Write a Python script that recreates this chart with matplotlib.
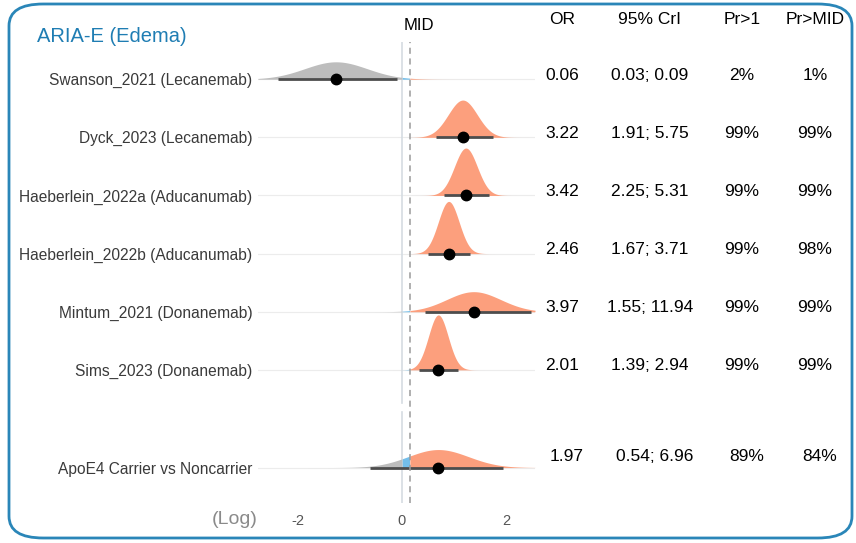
import numpy as np
import matplotlib.pyplot as plt
from matplotlib.patches import FancyBboxPatch
from matplotlib import transforms

plt.rcParams['font.family'] = ['Liberation Sans', 'DejaVu Sans']

# --- data (log odds ratio scale) ---
labels = ["Swanson_2021 (Lecanemab)", "Dyck_2023 (Lecanemab)",
          "Haeberlein_2022a (Aducanumab)", "Haeberlein_2022b (Aducanumab)",
          "Mintum_2021 (Donanemab)", "Sims_2023 (Donanemab)",
          "ApoE4 Carrier vs Noncarrier"]
rows = [0, 1, 2, 3, 4, 5, 6.68]
centers = [-1.27, 1.17, 1.23, 0.90, 1.38, 0.70, 0.70]
sds = [0.60, 0.28, 0.22, 0.20, 0.52, 0.19, 0.58]
ci_lo = [-2.38, 0.65, 0.81, 0.51, 0.44, 0.33, -0.62]
ci_hi = [-0.10, 1.75, 1.67, 1.31, 2.48, 1.08, 1.94]
or_txt = ["0.06", "3.22", "3.42", "2.46", "3.97", "2.01", "1.97"]
cri_txt = ["0.03; 0.09", "1.91; 5.75", "2.25; 5.31", "1.67; 3.71",
           "1.55; 11.94", "1.39; 2.94", "0.54; 6.96"]
pr1_txt = ["2%", "99%", "99%", "99%", "99%", "99%", "89%"]
prmid_txt = ["1%", "99%", "99%", "98%", "99%", "99%", "84%"]
mid = 0.15

orange = "#FC9F7D"
blue = "#74BEEA"
grey = "#BDBDBD"

fig = plt.figure(figsize=(8.56, 5.43), dpi=100)

# rounded frame
frame = FancyBboxPatch((9 / 856, 5 / 543), 843 / 856, 534 / 543,
                       boxstyle="round,pad=0,rounding_size=0.04",
                       transform=fig.transFigure, fill=False,
                       edgecolor="#2A86B8", linewidth=2)
fig.patches.append(frame)

fig.text(37 / 856, 1 - 37 / 543, "ARIA-E (Edema)", color="#1F7DB3",
         fontsize=14.5, va="center", ha="left")

ax = fig.add_axes([258 / 856, 1 - 503 / 543, 277 / 856, 461 / 543])
ax.set_xlim(-2.77, 2.56)
ax.set_ylim(7.29, -0.64)
for s in ax.spines.values():
    s.set_visible(False)

# row grid lines
for r in rows:
    ax.axhline(r, color="#ECECEC", lw=0.8, zorder=0)

# reference lines
ax.plot([0, 0], [-0.64, 5.57], color="#D5DCE2", lw=1.2, zorder=1)
ax.plot([0, 0], [5.72, 7.29], color="#D5DCE2", lw=1.2, zorder=1)
ax.axvline(mid, color="#9A9A9A", lw=1.1, ls=(0, (4, 3)), zorder=5)

area = 0.45
xs = np.linspace(-2.77, 2.56, 800)
for r, c, sd, lo, hi in zip(rows, centers, sds, ci_lo, ci_hi):
    h = area * np.exp(-0.5 * ((xs - c) / sd) ** 2) / (sd * np.sqrt(2 * np.pi))
    top = r - h
    ax.fill_between(xs, r, top, where=xs <= 0, color=grey, lw=0, zorder=2)
    ax.fill_between(xs, r, top, where=(xs >= 0) & (xs <= mid), color=blue, lw=0, zorder=2)
    ax.fill_between(xs, r, top, where=xs >= mid, color=orange, lw=0, zorder=2)
    ax.plot([lo, hi], [r, r], color="#4D4D4D", lw=2, solid_capstyle="butt", zorder=3)
    ax.plot(c, r, "o", color="black", ms=7.5, zorder=4)

ax.set_yticks(rows)
ax.set_yticklabels(labels, fontsize=11.2, color="#3A3A3A")
ax.tick_params(axis="y", length=0, pad=4)
ax.set_xticks([-2, 0, 2])
ax.set_xticklabels(["-2", "0", "2"], fontsize=10.5, color="#555555")
ax.tick_params(axis="x", length=0, pad=8)

fig.text(258 / 856, 1 - 519 / 543, "(Log)", fontsize=14, color="#8A8A8A",
         ha="right", va="center")
fig.text(419 / 856, 1 - 25 / 543, "MID", fontsize=12, ha="center", va="center")

# table
tr = transforms.blended_transform_factory(fig.transFigure, ax.transData)
cols = [562, 650, 742, 815]
heads = ["OR", "95% CrI", "Pr>1", "Pr>MID"]
for x, t in zip(cols, heads):
    fig.text(x / 856, 1 - 20 / 543, t, fontsize=12.5, ha="center", va="center")
for i, r in enumerate(rows):
    shift = 0.0 if i < 6 else 5
    ty = r - 0.07 if i < 6 else r - 0.19
    vals = [or_txt[i], cri_txt[i], pr1_txt[i], prmid_txt[i]]
    for x, t in zip(cols, vals):
        ax.text((x + shift) / 856, ty, t, fontsize=12.5, ha="center",
                va="center", transform=tr)

fig.savefig("out.png", dpi=100)
